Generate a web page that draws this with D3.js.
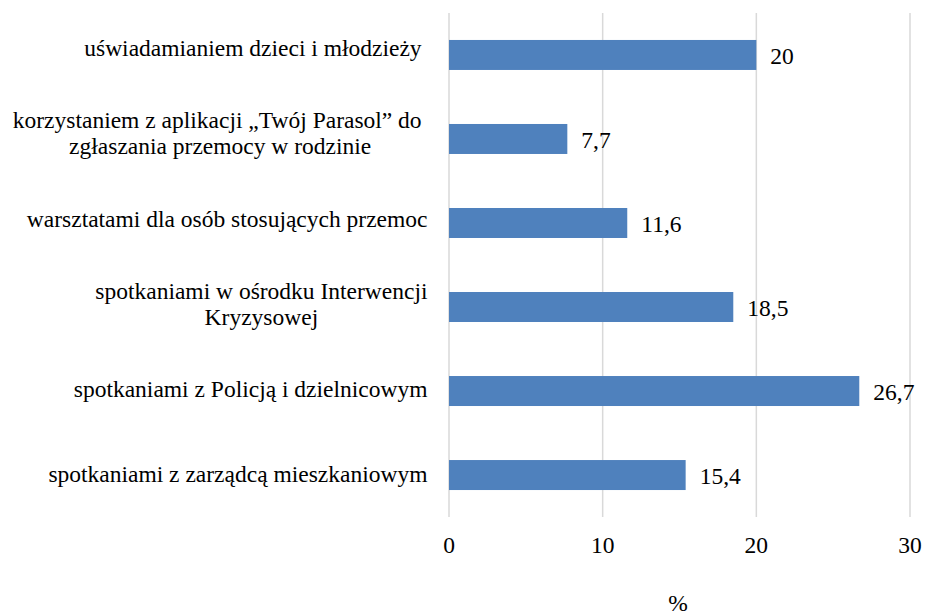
<!DOCTYPE html>
<html>
<head>
<meta charset="utf-8">
<script src="https://cdn.jsdelivr.net/npm/d3@7"></script>
<style>
  body { margin: 0; background: #fff; }
  text { white-space: pre; }
</style>
</head>
<body>
<script>
const categories = [
  ["uświadamianiem dzieci i młodzieży "],
  ["korzystaniem z aplikacji „Twój Parasol” do ", "zgłaszania przemocy w rodzinie"],
  ["warsztatami dla osób stosujących przemoc"],
  ["spotkaniami w ośrodku Interwencji", "Kryzysowej"],
  ["spotkaniami z Policją i dzielnicowym"],
  ["spotkaniami z zarządcą mieszkaniowym"]
];
const values = [20, 7.7, 11.6, 18.5, 26.7, 15.4];
const xTicks = [0, 10, 20, 30];
const axisTitle = "%";

const width = 925, height = 616;
const fontSize = 23.5;
const serif = "'Liberation Serif', 'Times New Roman', serif";

const svg = d3.select("body").append("svg")
  .attr("width", width)
  .attr("height", height)
  .attr("font-family", serif);

const x = d3.scaleLinear().domain([0, 30]).range([449, 910]);
const y = d3.scaleBand()
  .domain(d3.range(categories.length))
  .range([13, 517])
  .paddingInner(0.643)
  .paddingOuter(0.321);
// category label baselines sit on a slightly wider spacing than the bars
const yLab = d3.scalePoint()
  .domain(d3.range(categories.length))
  .range([56, 482.3]);

// gridlines
svg.append("g")
  .selectAll("line")
  .data(xTicks)
  .join("line")
  .attr("x1", d => x(d)).attr("x2", d => x(d))
  .attr("y1", 13).attr("y2", 517)
  .attr("stroke", "#d9d9d9")
  .attr("stroke-width", 1.5);

// bars
svg.append("g")
  .selectAll("rect")
  .data(values)
  .join("rect")
  .attr("x", x(0))
  .attr("y", (d, i) => y(i))
  .attr("width", d => x(d) - x(0))
  .attr("height", y.bandwidth())
  .attr("fill", "#4f81bd");

// value labels
const fmt = v => String(v).replace(".", ",");
svg.append("g")
  .selectAll("text")
  .data(values)
  .join("text")
  .attr("x", d => x(d) + 14)
  .attr("y", (d, i) => y(i) + y.bandwidth() / 2 + 9)
  .attr("font-size", fontSize)
  .text(d => fmt(d));

// category labels: block right aligned, lines centered in block
const lineH = 26;
const catG = svg.append("g");
categories.forEach((lines, i) => {
  const g = catG.append("g");
  const texts = lines.map((l, j) => g.append("text")
    .attr("text-anchor", "middle")
    .attr("y", yLab(i) + (j - (lines.length - 1) / 2) * lineH)
    .attr("font-size", fontSize)
    .text(l));
  const w = d3.max(texts, t => t.node().getComputedTextLength());
  texts.forEach(t => t.attr("x", 427.5 - w / 2));
});

// x tick labels
svg.append("g")
  .selectAll("text")
  .data(xTicks)
  .join("text")
  .attr("x", d => x(d))
  .attr("y", 553)
  .attr("text-anchor", "middle")
  .attr("font-size", fontSize)
  .text(d => d);

svg.append("text")
  .attr("x", 678)
  .attr("y", 611)
  .attr("text-anchor", "middle")
  .attr("font-size", fontSize)
  .text(axisTitle);
</script>
</body>
</html>
